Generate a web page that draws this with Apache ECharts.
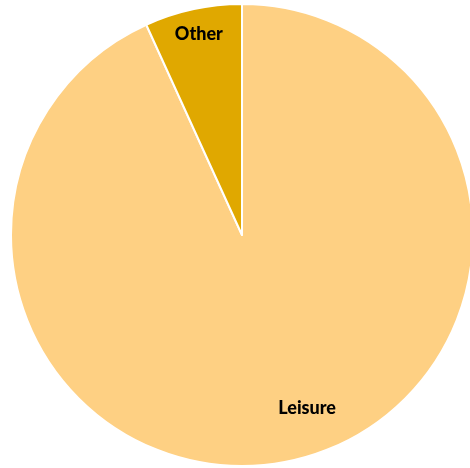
<!DOCTYPE html>
<html>
<head>
<meta charset="utf-8">
<script src="https://cdn.jsdelivr.net/npm/echarts@6/dist/echarts.min.js"></script>
<style>
  html, body { margin: 0; padding: 0; background: #fff; }
  #chart { width: 470px; height: 468px; }
</style>
</head>
<body>
<div id="chart"></div>
<script>
// pie data
const categories = ['Leisure', 'Other'];
const values = [93.2, 6.8];
const colors = ['#FED083', '#E0A800'];
// label nudges from the inside position
const labelOffsets = [[40, 57], [-18, -85]];

const chart = echarts.init(document.getElementById('chart'), null, { renderer: 'canvas' });

const option = {
  animation: false,
  series: [{
    type: 'pie',
    center: [242, 235],
    radius: 231,
    startAngle: 90,
    clockwise: true,
    label: {
      show: true,
      position: 'inside',
      formatter: '{b}',
      color: '#000',
      fontFamily: 'Lato',
      fontWeight: 900,
      fontSize: 18,
    },
    labelLine: { show: false },
    itemStyle: {
      borderColor: '#fff',
      borderWidth: 2,
    },
    emphasis: { disabled: true },
    data: categories.map((name, i) => ({
      name,
      value: values[i],
      itemStyle: { color: colors[i] },
      label: { offset: labelOffsets[i] },
    })),
  }],
};

chart.setOption(option);
</script>
</body>
</html>
